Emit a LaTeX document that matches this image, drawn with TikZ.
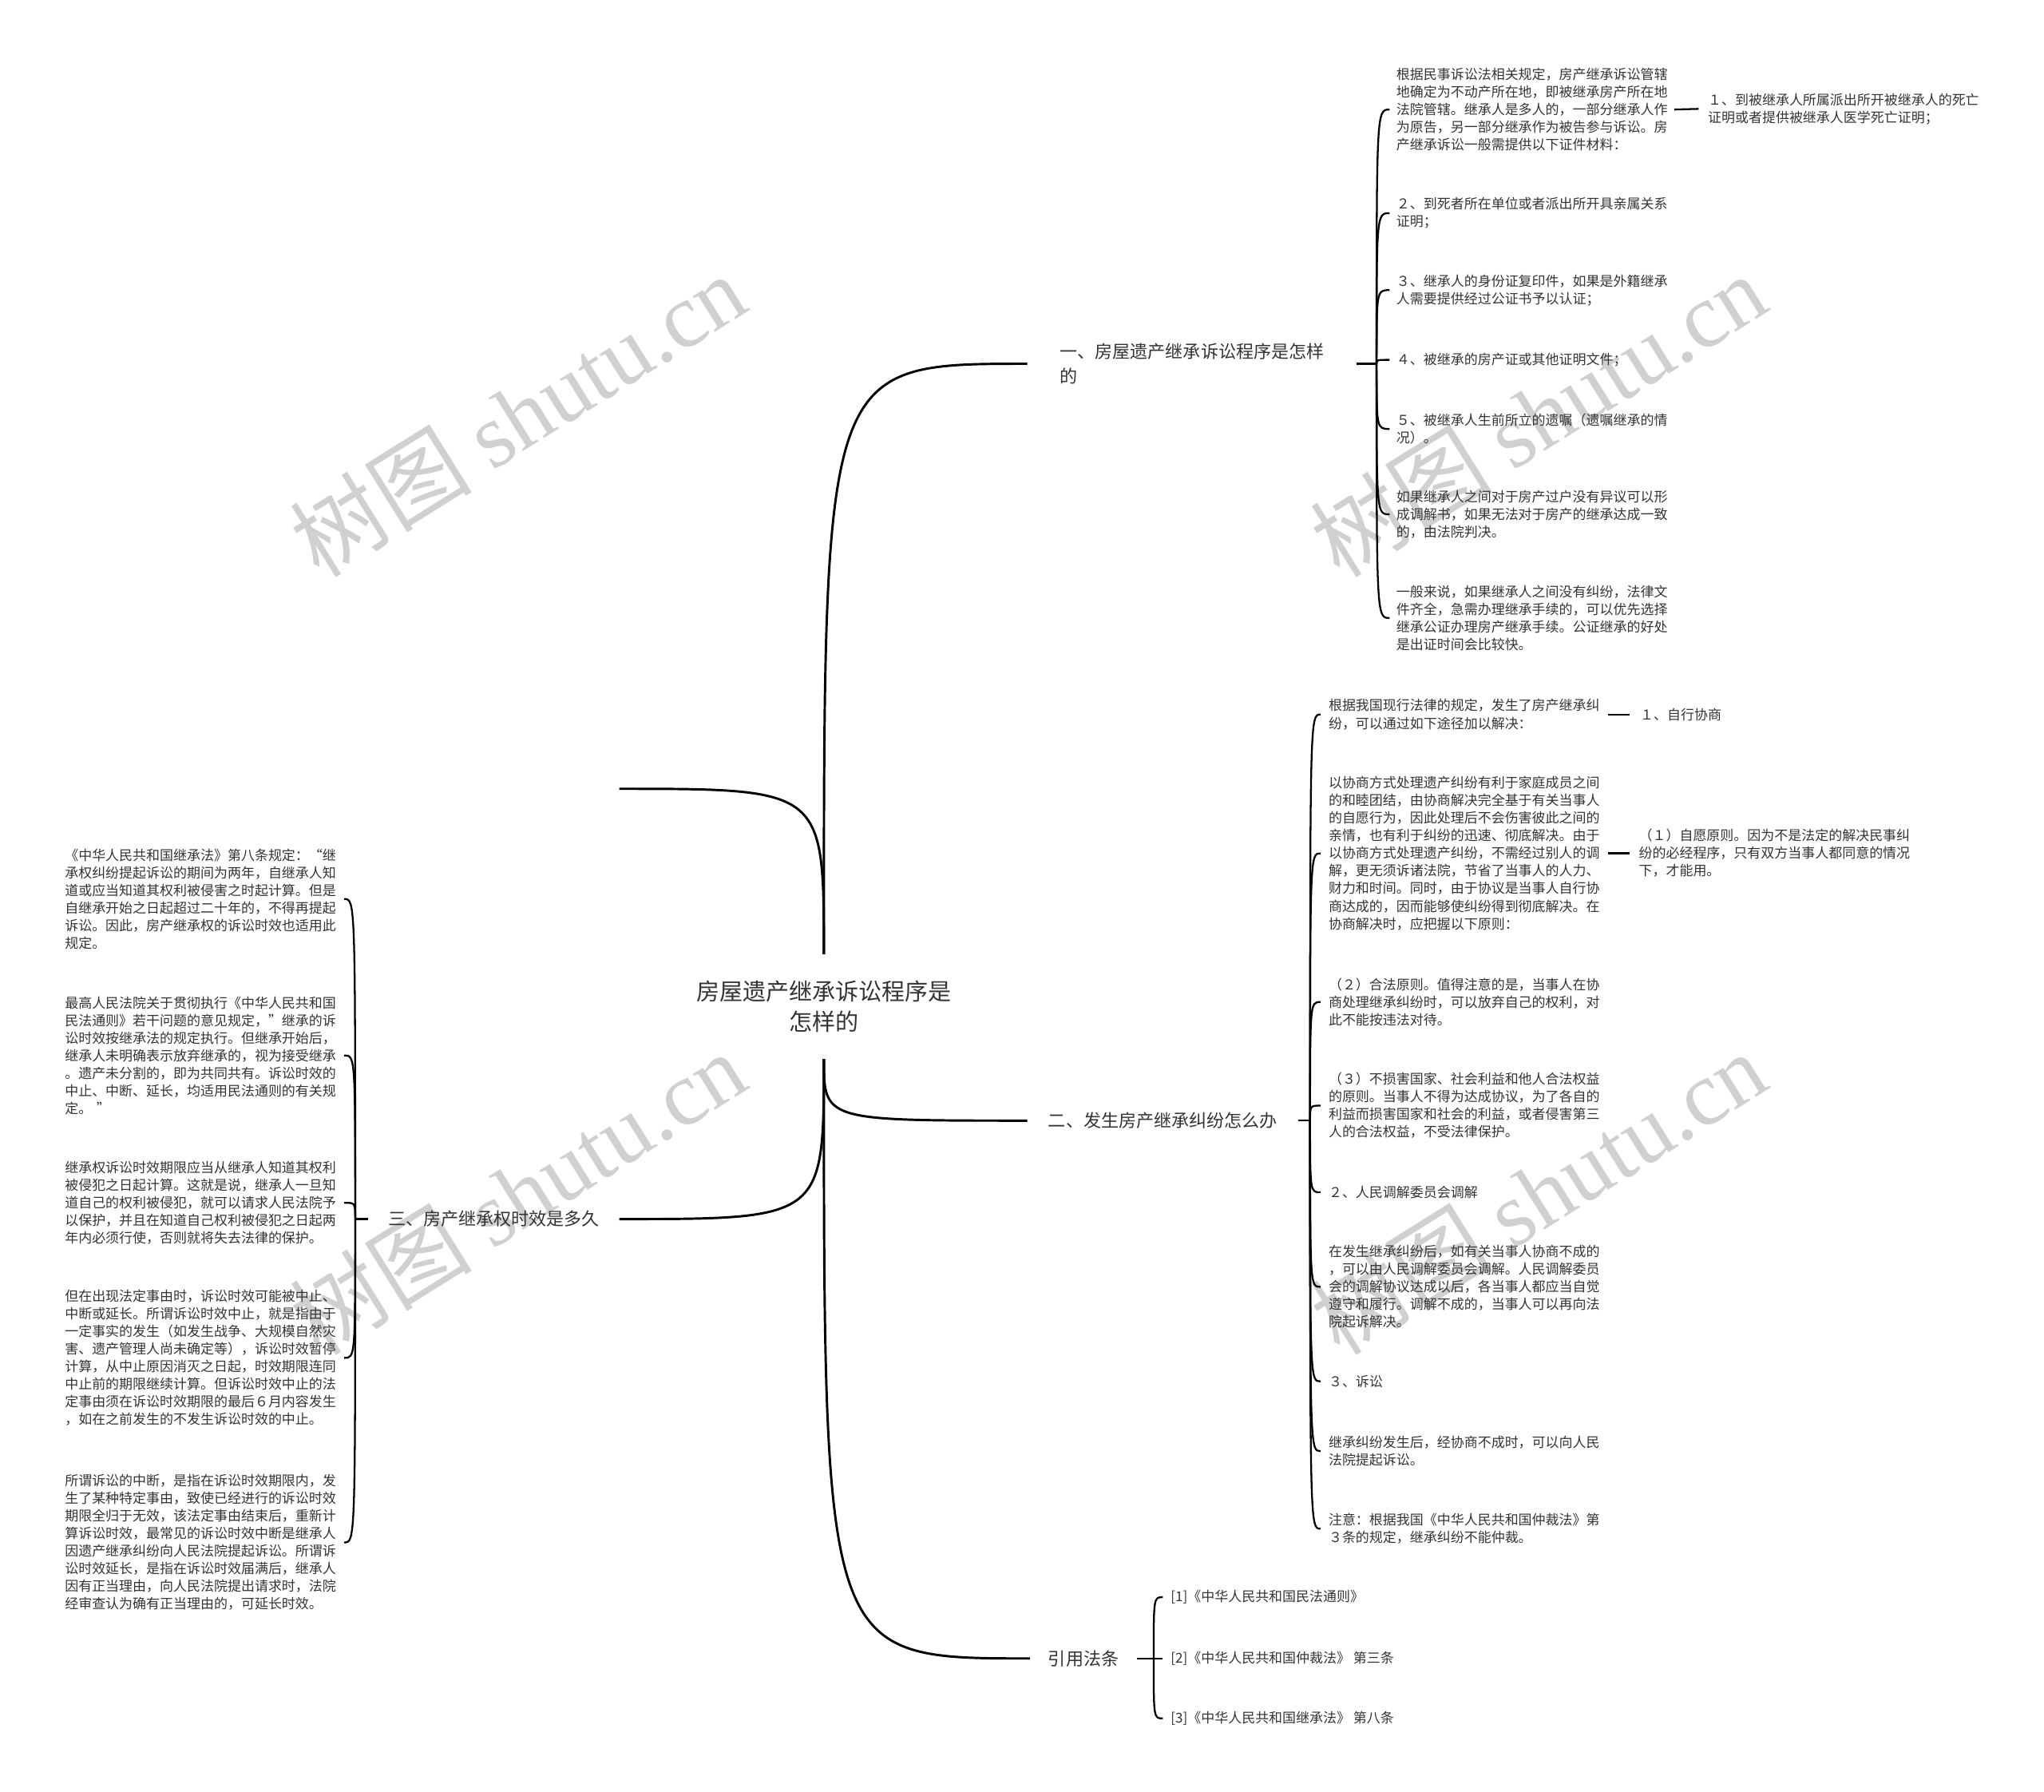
\documentclass[tikz,border=0pt]{standalone}
\usepackage{fontspec}
\setmainfont{Noto Sans CJK SC}
\newfontfamily\wmserif{Liberation Serif}
\definecolor{txt}{HTML}{333333}
\definecolor{wm}{HTML}{D0D0D0}
\begin{document}
\begin{tikzpicture}[x=1pt,y=-1pt,
  body/.style={font=\fontsize{10.4}{13.5}\selectfont, text=txt, align=left, inner ysep=2pt},
  wide/.style={body, text width=208pt},
  lvl/.style={font=\fontsize{13.5}{19}\selectfont, text=txt, align=left, inner ysep=2pt},
  rootline/.style={line width=1.8pt, black},
  br/.style={line width=1.4pt, black},
  wmark/.style={text=wm, rotate=32, font=\fontsize{70}{70}\selectfont, inner sep=0pt}]
\useasboundingbox (0,0) rectangle (1568,1374);

% watermarks
\node[wmark] (w1) at (397,318) {树图 {\wmserif shutu.cn}};
\node[wmark] (w2) at (1180,318) {树图 {\wmserif shutu.cn}};
\node[wmark] (w3) at (397,915) {树图 {\wmserif shutu.cn}};
\node[wmark] (w4) at (1180,915) {树图 {\wmserif shutu.cn}};

% root
\node[font=\fontsize{17.8}{23.5}\selectfont, text=txt, align=center, inner ysep=20pt, inner xsep=4pt] (root) at (632,772) {房屋遗产继承诉讼程序是\\怎样的};

% level 1
\node[lvl, anchor=west, inner xsep=25pt] (b1) at (788,279) {一、房屋遗产继承诉讼程序是怎样\\的};
\node[lvl, anchor=west, inner xsep=16pt] (b2) at (788,859.5) {二、发生房产继承纠纷怎么办};
\node[lvl, anchor=west, inner xsep=14pt] (b3) at (790,1272) {引用法条};
\node[lvl, anchor=east, inner xsep=15pt] (b4) at (475,935) {三、房产继承权时效是多久};
\coordinate (e0) at (475,605);

% hubs
\coordinate (h1) at (1056,279);
\coordinate (h2) at (1005,859.5);
\coordinate (h3) at (885,1272);
\coordinate (h4) at (272.5,935);

% branch 1 children
\node[wide, anchor=west, inner xsep=5pt] (c1) at (1066,84) {根据民事诉讼法相关规定，房产继承诉讼管辖\\地确定为不动产所在地，即被继承房产所在地\\法院管辖。继承人是多人的，一部分继承人作\\为原告，另一部分继承作为被告参与诉讼。房\\产继承诉讼一般需提供以下证件材料：};
\node[body, anchor=west, inner xsep=7pt] (c1a) at (1303,83.5) {１、到被继承人所属派出所开被继承人的死亡\\证明或者提供被继承人医学死亡证明；};
\node[wide, anchor=west, inner xsep=5pt] (c2) at (1066,163.5) {２、到死者所在单位或者派出所开具亲属关系\\证明；};
\node[wide, anchor=west, inner xsep=5pt] (c3) at (1066,222.5) {３、继承人的身份证复印件，如果是外籍继承\\人需要提供经过公证书予以认证；};
\node[body, anchor=west, inner xsep=5pt] (c4) at (1066,276) {４、被继承的房产证或其他证明文件；};
\node[wide, anchor=west, inner xsep=5pt] (c5) at (1066,329) {５、被继承人生前所立的遗嘱（遗嘱继承的情\\况）。};
\node[wide, anchor=west, inner xsep=5pt] (c6) at (1066,394.5) {如果继承人之间对于房产过户没有异议可以形\\成调解书，如果无法对于房产的继承达成一致\\的，由法院判决。};
\node[wide, anchor=west, inner xsep=5pt] (c7) at (1066,474) {一般来说，如果继承人之间没有纠纷，法律文\\件齐全，急需办理继承手续的，可以优先选择\\继承公证办理房产继承手续。公证继承的好处\\是出证时间会比较快。};

% branch 2 children
\node[wide, anchor=west, inner xsep=6pt] (d1) at (1013,548) {根据我国现行法律的规定，发生了房产继承纠\\纷，可以通过如下途径加以解决：};
\node[body, anchor=west, inner xsep=8pt] (d1a) at (1250,548) {１、自行协商};
\node[wide, anchor=west, inner xsep=6pt] (d2) at (1013,654.5) {以协商方式处理遗产纠纷有利于家庭成员之间\\的和睦团结，由协商解决完全基于有关当事人\\的自愿行为，因此处理后不会伤害彼此之间的\\亲情，也有利于纠纷的迅速、彻底解决。由于\\以协商方式处理遗产纠纷，不需经过别人的调\\解，更无须诉诸法院，节省了当事人的人力、\\财力和时间。同时，由于协议是当事人自行协\\商达成的，因而能够使纠纷得到彻底解决。在\\协商解决时，应把握以下原则：};
\node[body, anchor=west, inner xsep=7pt] (d2a) at (1250,654.5) {（１）自愿原则。因为不是法定的解决民事纠\\纷的必经程序，只有双方当事人都同意的情况\\下，才能用。};
\node[wide, anchor=west, inner xsep=6pt] (d3) at (1013,768.5) {（２）合法原则。值得注意的是，当事人在协\\商处理继承纠纷时，可以放弃自己的权利，对\\此不能按违法对待。};
\node[wide, anchor=west, inner xsep=6pt] (d4) at (1013,848) {（３）不损害国家、社会利益和他人合法权益\\的原则。当事人不得为达成协议，为了各自的\\利益而损害国家和社会的利益，或者侵害第三\\人的合法权益，不受法律保护。};
\node[body, anchor=west, inner xsep=6pt] (d5) at (1013,914.5) {２、人民调解委员会调解};
\node[wide, anchor=west, inner xsep=6pt] (d6) at (1013,987) {在发生继承纠纷后，如有关当事人协商不成的\\，可以由人民调解委员会调解。人民调解委员\\会的调解协议达成以后，各当事人都应当自觉\\遵守和履行。调解不成的，当事人可以再向法\\院起诉解决。};
\node[body, anchor=west, inner xsep=6pt] (d7) at (1013,1059.5) {３、诉讼};
\node[wide, anchor=west, inner xsep=6pt] (d8) at (1013,1113) {继承纠纷发生后，经协商不成时，可以向人民\\法院提起诉讼。};
\node[wide, anchor=west, inner xsep=6pt] (d9) at (1013,1172.5) {注意：根据我国《中华人民共和国仲裁法》第\\３条的规定，继承纠纷不能仲裁。};

% branch 3 children
\node[body, anchor=west, inner xsep=6pt] (f1) at (892,1225) {[1]《中华人民共和国民法通则》};
\node[body, anchor=west, inner xsep=6pt] (f2) at (892,1272) {[2]《中华人民共和国仲裁法》 第三条};
\node[body, anchor=west, inner xsep=6pt] (f3) at (892,1318) {[3]《中华人民共和国继承法》 第八条};

% branch 4 children
\node[wide, anchor=east, inner xsep=6pt] (g1) at (264,689.5) {《中华人民共和国继承法》第八条规定：“继\\承权纠纷提起诉讼的期间为两年，自继承人知\\道或应当知道其权利被侵害之时起计算。但是\\自继承开始之日起超过二十年的，不得再提起\\诉讼。因此，房产继承权的诉讼时效也适用此\\规定。};
\node[wide, anchor=east, inner xsep=6pt] (g2) at (264,809.5) {最高人民法院关于贯彻执行《中华人民共和国\\民法通则》若干问题的意见规定，”继承的诉\\讼时效按继承法的规定执行。但继承开始后，\\继承人未明确表示放弃继承的，视为接受继承\\。遗产未分割的，即为共同共有。诉讼时效的\\中止、中断、延长，均适用民法通则的有关规\\定。 ”};
\node[wide, anchor=east, inner xsep=6pt] (g3) at (264,922.5) {继承权诉讼时效期限应当从继承人知道其权利\\被侵犯之日起计算。这就是说，继承人一旦知\\道自己的权利被侵犯，就可以请求人民法院予\\以保护，并且在知道自己权利被侵犯之日起两\\年内必须行使，否则就将失去法律的保护。};
\node[wide, anchor=east, inner xsep=6pt] (g4) at (264,1041.5) {但在出现法定事由时，诉讼时效可能被中止、\\中断或延长。所谓诉讼时效中止，就是指由于\\一定事实的发生（如发生战争、大规模自然灾\\害、遗产管理人尚未确定等），诉讼时效暂停\\计算，从中止原因消灭之日起，时效期限连同\\中止前的期限继续计算。但诉讼时效中止的法\\定事由须在诉讼时效期限的最后６月内容发生\\，如在之前发生的不发生诉讼时效的中止。};
\node[wide, anchor=east, inner xsep=6pt] (g5) at (264,1183) {所谓诉讼的中断，是指在诉讼时效期限内，发\\生了某种特定事由，致使已经进行的诉讼时效\\期限全归于无效，该法定事由结束后，重新计\\算诉讼时效，最常见的诉讼时效中断是继承人\\因遗产继承纠纷向人民法院提起诉讼。所谓诉\\讼时效延长，是指在诉讼时效届满后，继承人\\因有正当理由，向人民法院提出请求时，法院\\经审查认为确有正当理由的，可延长时效。};

% root connectors
\draw[rootline] (root.north) .. controls (root.north |- b1.west) .. (b1.west);
\draw[rootline] (root.north) .. controls (root.north |- e0) .. (e0);
\draw[rootline] (root.south) .. controls (root.south |- b2.west) .. (b2.west);
\draw[rootline] (root.south) .. controls (root.south |- b3.west) .. (b3.west);
\draw[rootline] (root.south) .. controls (root.south |- b4.east) .. (b4.east);

% stubs to hubs
\draw[br] (b1.east) -- (h1);
\draw[br] (b2.east) -- (h2);
\draw[br] (b3.east) -- (h3);
\draw[br] (b4.west) -- (h4);

% brackets
\foreach \n in {c1,c2,c3,c4,c5,c6,c7}
  \draw[br] (h1) .. controls (h1 |- \n.west) .. (\n.west);
\foreach \n in {d1,d2,d3,d4,d5,d6,d7,d8,d9}
  \draw[br] (h2) .. controls (h2 |- \n.west) .. (\n.west);
\foreach \n in {f1,f2,f3}
  \draw[br] (h3) .. controls (h3 |- \n.west) .. (\n.west);
\foreach \n in {g1,g2,g3,g4,g5}
  \draw[br] (h4) .. controls (h4 |- \n.east) .. (\n.east);

% leaf stubs
\draw[br] (c1.east) -- (c1a.west);
\draw[br] (d1.east) -- (d1a.west);
\draw[br] (d2.east) -- (d2a.west);
\end{tikzpicture}
\end{document}
